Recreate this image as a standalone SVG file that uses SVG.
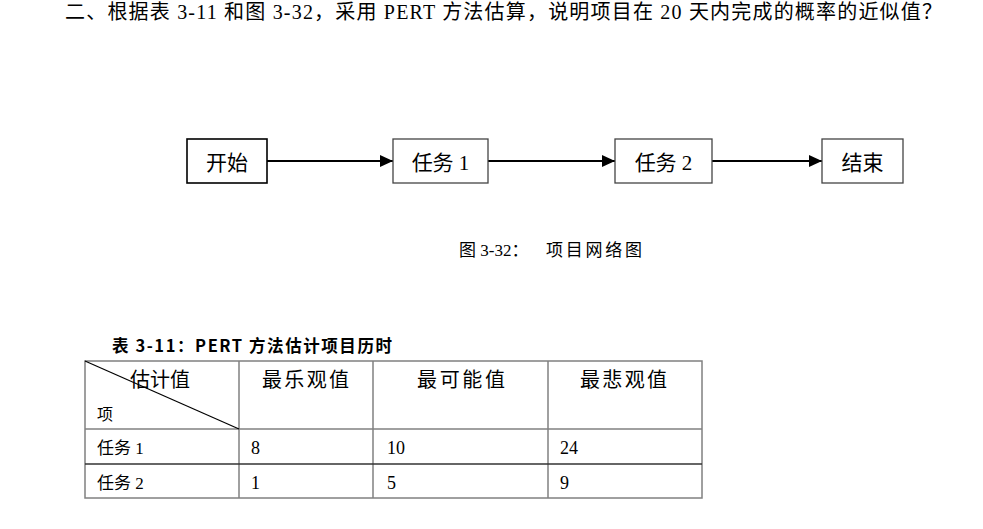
<svg xmlns="http://www.w3.org/2000/svg" width="983" height="529" viewBox="0 0 983 529">
  <style>
    .serif { font-family: "Liberation Serif", "Noto Sans CJK SC", serif; fill: #000; }
    .cjk { font-family: "Noto Sans CJK SC", "Liberation Sans", sans-serif; fill: #000; }
    .node rect { fill: #fff; stroke: #444; stroke-width: 1.3; }
    .node text { font-size: 21px; text-anchor: middle; }
    .edge { stroke: #000; stroke-width: 2; fill: none; }
    .grid { stroke: #808080; stroke-width: 1.5; fill: none; }
    .th { font-size: 20px; }
    .td { font-size: 17px; }
    .num { font-size: 18px; }
  </style>
  <defs>
    <marker id="arrow" markerUnits="userSpaceOnUse" markerWidth="13" markerHeight="12" refX="13" refY="6" orient="auto">
      <path d="M0,0 L13,6 L0,12 Z" fill="#000"/>
    </marker>
  </defs>

  <rect width="983" height="529" fill="#fff"/>

  <!-- question -->
  <text class="serif" x="65" y="19" font-size="20" textLength="877" lengthAdjust="spacing">二、根据表 3-11 和图 3-32，采用 PERT 方法估算，说明项目在 20 天内完成的概率的近似值？</text>

  <!-- network -->
  <g id="connectors">
    <line class="edge" x1="267" y1="161" x2="393" y2="161" marker-end="url(#arrow)"/>
    <line class="edge" x1="488" y1="161" x2="615" y2="161" marker-end="url(#arrow)"/>
    <line class="edge" x1="712" y1="161" x2="822" y2="161" marker-end="url(#arrow)"/>
  </g>

  <g id="start" class="node">
    <rect x="187" y="139" width="80" height="44" style="stroke:#000;stroke-width:1.6"/>
    <text class="serif" x="227" y="170">开始</text>
  </g>
  <g id="task1" class="node">
    <rect x="393" y="139" width="95" height="44"/>
    <text class="serif" x="440.5" y="170">任务 1</text>
  </g>
  <g id="task2" class="node">
    <rect x="615" y="139" width="97" height="44"/>
    <text class="serif" x="663.5" y="170">任务 2</text>
  </g>
  <g id="end" class="node">
    <rect x="822" y="139" width="81" height="44"/>
    <text class="serif" x="862.5" y="170">结束</text>
  </g>

  <text class="serif" x="459" y="256" font-size="17">图 3-32：<tspan x="546" textLength="96" lengthAdjust="spacing">项目网络图</tspan></text>

  <!-- estimate table -->
  <text class="cjk" x="112" y="352" font-size="16.5" font-weight="bold" textLength="280" lengthAdjust="spacing">表 3-11：PERT 方法估计项目历时</text>

  <g id="table">
    <rect class="grid" x="85" y="361" width="617" height="137"/>
    <line class="grid" x1="239" y1="361" x2="239" y2="498"/>
    <line class="grid" x1="373" y1="361" x2="373" y2="498"/>
    <line class="grid" x1="548" y1="361" x2="548" y2="498"/>
    <line class="grid" x1="85" y1="429" x2="702" y2="429"/>
    <line x1="85" y1="464" x2="702" y2="464" stroke="#333" stroke-width="1.5"/>
    <line x1="85" y1="361" x2="239" y2="429" stroke="#000" stroke-width="1.2"/>

    <text class="serif th" x="130" y="387" textLength="60" lengthAdjust="spacing">估计值</text>
    <text class="serif" x="97" y="420" font-size="16">项</text>
    <text class="serif th" x="262" y="387" textLength="87" lengthAdjust="spacing">最乐观值</text>
    <text class="serif th" x="417" y="387" textLength="88" lengthAdjust="spacing">最可能值</text>
    <text class="serif th" x="580" y="387" textLength="87" lengthAdjust="spacing">最悲观值</text>

    <text class="serif td" x="97" y="454">任务 1</text>
    <text class="serif num" x="251" y="454">8</text>
    <text class="serif num" x="387" y="454">10</text>
    <text class="serif num" x="560" y="454">24</text>

    <text class="serif td" x="97" y="489">任务 2</text>
    <text class="serif num" x="251" y="489">1</text>
    <text class="serif num" x="387" y="489">5</text>
    <text class="serif num" x="560" y="489">9</text>
  </g>
</svg>
